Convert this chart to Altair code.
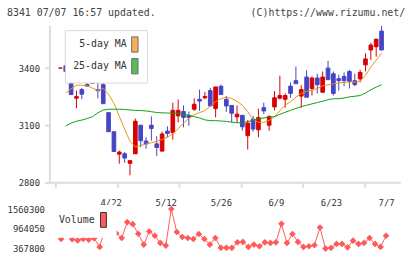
import json
import altair as alt
import pandas as pd

MONO = "DejaVu Sans Mono"
RED = "#d80000"
BLUE = "#4545c5"
VOL_RED = "#ff5a5a"
MA_NAMES = ["5-day MA", "25-day MA"]
MA_COLORS = ["#f0900f", "#10a010"]

# trading days 2020-04-08 .. 2020-07-07
dates = [
    "4/8", "4/9", "4/10", "4/13", "4/14", "4/15", "4/16", "4/17", "4/20", "4/21",
    "4/22", "4/23", "4/24", "4/27", "4/28", "4/30", "5/1", "5/7", "5/8", "5/11",
    "5/12", "5/13", "5/14", "5/15", "5/18", "5/19", "5/20", "5/21", "5/22", "5/25",
    "5/26", "5/27", "5/28", "5/29", "6/1", "6/2", "6/3", "6/4", "6/5", "6/8",
    "6/9", "6/10", "6/11", "6/12", "6/15", "6/16", "6/17", "6/18", "6/19", "6/22",
    "6/23", "6/24", "6/25", "6/26", "6/29", "6/30", "7/1", "7/2", "7/3", "7/6",
    "7/7",
]
open_ = [
    3400, 3412, 3343, 3242, 3287, 3313, 3339, 3286, 3313, 3166,
    3066, 2948, 2950, 2900, 2950, 3100, 3017, 3100, 3002, 2964,
    3069, 3061, 3149, 3172, 3152, 3184, 3236, 3244, 3282, 3187,
    3305, 3236, 3204, 3144, 3152, 3045, 3132, 3076, 3192, 3100,
    3196, 3242, 3236, 3305, 3334, 3253, 3353, 3293, 3348, 3273,
    3400, 3370, 3344, 3356, 3382, 3334, 3343, 3417, 3495, 3512,
    3594,
]
high = [
    3400, 3426, 3429, 3282, 3296, 3362, 3377, 3322, 3322, 3166,
    3066, 2967, 2959, 2914, 3135, 3100, 3037, 3146, 3042, 3066,
    3094, 3218, 3235, 3204, 3172, 3241, 3287, 3275, 3296, 3301,
    3313, 3253, 3204, 3204, 3152, 3127, 3149, 3187, 3218, 3152,
    3279, 3360, 3267, 3325, 3408, 3310, 3388, 3356, 3370, 3382,
    3438, 3382, 3365, 3377, 3391, 3370, 3391, 3478, 3533, 3552,
    3622,
]
low = [
    3400, 3339, 3261, 3189, 3236, 3305, 3320, 3241, 3213, 3066,
    2962, 2898, 2903, 2837, 2950, 2985, 2976, 3019, 2938, 2964,
    3037, 3024, 3115, 3089, 3097, 3175, 3175, 3236, 3201, 3141,
    3261, 3170, 3115, 3115, 3071, 2972, 3066, 3037, 3158, 3071,
    3178, 3236, 3192, 3244, 3318, 3192, 3247, 3256, 3267, 3273,
    3339, 3256, 3282, 3305, 3293, 3305, 3325, 3382, 3443, 3460,
    3495,
]
close = [
    3400, 3382, 3261, 3250, 3263, 3305, 3320, 3281, 3213, 3066,
    2962, 2959, 2928, 2914, 3121, 3019, 3002, 3083, 2983, 3054,
    3057, 3178, 3178, 3141, 3141, 3210, 3227, 3251, 3201, 3301,
    3261, 3201, 3163, 3158, 3092, 3111, 3080, 3140, 3175, 3146,
    3244, 3256, 3256, 3267, 3318, 3287, 3247, 3348, 3313, 3353,
    3339, 3267, 3334, 3334, 3330, 3313, 3377, 3448, 3521, 3552,
    3495,
]
volume = [
    950000, 657000, 950000, 650000, 615000, 657000, 636000, 680000, 418000, 1000000,
    1180000, 830000, 687000, 1164000, 1104000, 815000, 487000, 883000, 755000, 538000,
    457000, 1560300, 866000, 717000, 687000, 657000, 806000, 657000, 487000, 687000,
    389000, 389000, 389000, 556000, 568000, 418000, 487000, 436000, 556000, 538000,
    556000, 1113000, 538000, 806000, 568000, 418000, 436000, 467000, 1003000, 367800,
    389000, 508000, 508000, 405000, 606000, 508000, 538000, 687000, 508000, 418000,
    755000,
]
# moving averages, from the second session onward
ma5 = [
    3269, 3291, 3310, 3310, 3307, 3295, 3283, 3293, 3262, 3215,
    3147, 3079, 3016, 2986, 2994, 3001, 3008, 3016, 3025, 3037,
    3056, 3082, 3111, 3136, 3155, 3166, 3177, 3200, 3224, 3239,
    3248, 3240, 3226, 3205, 3171, 3131, 3115, 3115, 3124, 3145,
    3176, 3205, 3224, 3247, 3267, 3279, 3283, 3293, 3307, 3312,
    3317, 3322, 3325, 3327, 3327, 3330, 3362, 3405, 3442, 3478,
]
ma25 = [
    3096, 3111, 3121, 3127, 3135, 3145, 3165, 3180, 3184, 3184,
    3184, 3183, 3180, 3178, 3177, 3175, 3171, 3167, 3165, 3164,
    3163, 3163, 3158, 3152, 3145, 3138, 3128, 3124, 3124, 3122,
    3120, 3116, 3113, 3112, 3119, 3126, 3133, 3138, 3143, 3145,
    3157, 3168, 3178, 3188, 3198, 3205, 3212, 3219, 3226, 3234,
    3239, 3239, 3243, 3249, 3252, 3256, 3269, 3286, 3300, 3313,
]
price_ticks = [2800, 3100, 3400]
volume_ticks = [367800, 964050, 1560300]
label_sessions = [10, 20, 30, 40, 50, 60]

n = len(dates)
idx = list(range(n))
candles = pd.DataFrame({"i": idx, "open": open_, "high": high, "low": low, "close": close})

ma_rows = []
for name, vals in zip(MA_NAMES, [ma5, ma25]):
    start = n - len(vals)
    for k, v in enumerate(vals):
        ma_rows.append({"i": start + k, "series": name, "value": v})
ma_df = pd.DataFrame(ma_rows)

vol_df = pd.DataFrame({"i": idx, "volume": volume, "series": "Volume"})

X_DOMAIN = [-1.13, 62.57]
x_scale = alt.Scale(domain=X_DOMAIN, nice=False, zero=False)
grid_ticks = [round(-0.95 + k * (X_DOMAIN[1] + 0.95) / 11, 3) for k in range(12)]

# ---- price panel ----
y_price = alt.Scale(domain=[2800, 3625], nice=False, zero=False)
up = alt.datum.close >= alt.datum.open
candle_color = alt.condition(up, alt.value(RED), alt.value(BLUE))

x_main = alt.X(
    "i:Q", scale=x_scale,
    axis=alt.Axis(values=grid_ticks, labels=False, title=None, grid=False, tickSize=5,
                  domainColor="#dddddd", tickColor="#dddddd", domainWidth=2, tickWidth=2),
)
y_main = alt.Y(
    "low:Q", scale=y_price,
    axis=alt.Axis(values=price_ticks, format="d", title=None, grid=False, tickSize=5,
                  labelPadding=5, domainColor="#dddddd", tickColor="#dddddd",
                  domainWidth=2, tickWidth=2),
)

base = alt.Chart(candles)
wicks = base.mark_rule(strokeWidth=1).encode(x=x_main, y=y_main, y2="high:Q", color=candle_color)
bodies = base.mark_bar(size=3.7, strokeWidth=1).encode(
    x="i:Q", y="open:Q", y2="close:Q", color=candle_color, stroke=candle_color
)

ma_lines = alt.Chart(ma_df).mark_line(strokeWidth=1).encode(
    x="i:Q", y="value:Q",
    stroke=alt.Stroke("series:N", scale=alt.Scale(domain=MA_NAMES, range=MA_COLORS), legend=None),
)
# key box: right-aligned labels to the left of tall swatches
ma_key = alt.Chart(ma_df).mark_point(filled=True, size=0).encode(
    x="i:Q", y="value:Q",
    fill=alt.Fill(
        "series:N", scale=alt.Scale(domain=MA_NAMES, range=MA_COLORS),
        legend=alt.Legend(
            title=None, orient="none", legendX=15.7, legendY=5, direction="vertical",
            symbolType="M-0.42,-1H0.42V1H-0.42Z", symbolSize=240,
            symbolStrokeColor="#333333", symbolStrokeWidth=1,
            labelAlign="right", labelOffset={"expr": "-16.75"}, symbolOffset=56.25,
            labelFont=MONO, labelFontSize=10, labelColor="#333333",
            padding=6, rowPadding=1, fillColor="white", strokeColor="#d8d8d8",
        ),
    ),
)

price_panel = alt.layer(wicks, bodies, ma_lines, ma_key).properties(
    width=355, height=159,
    title=alt.TitleParams(
        "(C)https://www.rizumu.net/", anchor="end", font=MONO, fontSize=10,
        fontWeight="normal", color="#444444", offset=2, dy=-5, dx=5,
    ),
)

# ---- volume panel ----
vol_x = alt.X(
    "i:Q", scale=x_scale,
    axis=alt.Axis(orient="top", values=label_sessions, labelExpr=f"{json.dumps(dates)}[datum.value]",
                  ticks=False, domain=False, title=None, grid=False, labelPadding=2),
)
vol_y = alt.Y(
    "volume:Q", scale=alt.Scale(domain=[248550, 1560300], nice=False, zero=False),
    axis=alt.Axis(values=volume_ticks, format="d", ticks=False, domain=False, title=None,
                  grid=False, labelPadding=5, labelOverlap=False, labelSeparation=0),
)
vol_line = alt.Chart(vol_df).mark_line(color=VOL_RED, strokeWidth=1).encode(x=vol_x, y=vol_y)
vol_pts = alt.Chart(vol_df).mark_point(shape="diamond", filled=True, size=45, opacity=1).encode(
    x=vol_x, y=vol_y,
    fill=alt.Fill(
        "series:N", scale=alt.Scale(domain=["Volume"], range=[VOL_RED]),
        legend=alt.Legend(
            title=None, orient="none", legendX=1, legendY=-4,
            symbolType="M-0.4,-1H0.4V1H-0.4Z", symbolSize=225,
            symbolStrokeColor="#333333", symbolStrokeWidth=1,
            labelAlign="right", labelOffset={"expr": "-17"}, symbolOffset=38.7,
            labelFont=MONO, labelFontSize=10, labelColor="#333333",
            padding=7, fillColor="white", strokeColor="white",
        ),
    ),
)
volume_panel = alt.layer(vol_line, vol_pts).properties(width=355, height=44)

chart = (
    alt.vconcat(
        price_panel, volume_panel, spacing=10,
        title=alt.TitleParams(
            "8341 07/07 16:57 updated.", anchor="start", font=MONO, fontSize=10,
            fontWeight="normal", color="#444444", offset=0, dy=10,
        ),
    )
    .resolve_scale(fill="independent")
    .resolve_legend(fill="independent")
    .properties(padding={"left": 7, "top": 7, "right": 15, "bottom": 2})
    .configure_view(stroke=None)
    .configure_axis(labelFont=MONO, labelFontSize=9, labelColor="#333333", labelOverlap=False)
)

chart.save("out.html", embed_options={"renderer": "svg", "actions": False})
